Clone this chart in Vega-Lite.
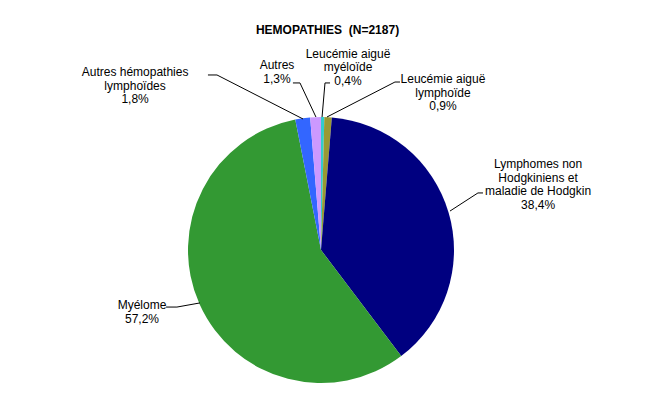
{
  "$schema": "https://vega.github.io/schema/vega-lite/v6.json",
  "description": "Hemopathies (N=2187) - repartition par type",
  "width": 645,
  "height": 405,
  "autosize": {"type": "none"},
  "padding": 0,
  "background": "white",
  "title": {
    "text": "HEMOPATHIES \u00a0(N=2187)",
    "font": "Liberation Sans",
    "fontSize": 12,
    "fontWeight": "bold",
    "color": "black",
    "anchor": "middle",
    "frame": "group",
    "offset": -37,
    "dx": 5
  },
  "datasets": {
    "parts": [
      {"ordre": 1, "type": "Leucémie aiguë myéloïde", "pct": 0.4},
      {"ordre": 2, "type": "Leucémie aiguë lymphoïde", "pct": 0.9},
      {"ordre": 3, "type": "Lymphomes non Hodgkiniens et maladie de Hodgkin", "pct": 38.4},
      {"ordre": 4, "type": "Myélome", "pct": 57.2},
      {"ordre": 5, "type": "Autres hémopathies lymphoïdes", "pct": 1.8},
      {"ordre": 6, "type": "Autres", "pct": 1.3}
    ],
    "leaders": [
      {"type": "Leucémie aiguë myéloïde", "pt": 1, "ux": 0.008, "uy": 1.0},
      {"type": "Leucémie aiguë myéloïde", "pt": 2, "ux": 0.030, "uy": 1.256},
      {"type": "Leucémie aiguë myéloïde", "pt": 3, "ux": 0.068, "uy": 1.256},
      {"type": "Leucémie aiguë lymphoïde", "pt": 1, "ux": 0.045, "uy": 1.0},
      {"type": "Leucémie aiguë lymphoïde", "pt": 2, "ux": 0.556, "uy": 1.263},
      {"type": "Leucémie aiguë lymphoïde", "pt": 3, "ux": 0.594, "uy": 1.263},
      {"type": "Lymphomes non Hodgkiniens et maladie de Hodgkin", "pt": 1, "ux": 0.970, "uy": 0.293},
      {"type": "Lymphomes non Hodgkiniens et maladie de Hodgkin", "pt": 2, "ux": 1.180, "uy": 0.429},
      {"type": "Lymphomes non Hodgkiniens et maladie de Hodgkin", "pt": 3, "ux": 1.218, "uy": 0.429},
      {"type": "Myélome", "pt": 1, "ux": -0.910, "uy": -0.398},
      {"type": "Myélome", "pt": 2, "ux": -1.083, "uy": -0.429},
      {"type": "Myélome", "pt": 3, "ux": -1.165, "uy": -0.429},
      {"type": "Autres hémopathies lymphoïdes", "pt": 1, "ux": -0.135, "uy": 0.985},
      {"type": "Autres hémopathies lymphoïdes", "pt": 2, "ux": -0.782, "uy": 1.316},
      {"type": "Autres hémopathies lymphoïdes", "pt": 3, "ux": -0.850, "uy": 1.316},
      {"type": "Autres", "pt": 1, "ux": -0.038, "uy": 1.0},
      {"type": "Autres", "pt": 2, "ux": -0.158, "uy": 1.256},
      {"type": "Autres", "pt": 3, "ux": -0.211, "uy": 1.256}
    ],
    "labels": [
      {"label": "Leucémie aiguë\nmyéloïde\n0,4%", "ux": 0.203, "uy": 1.474},
      {"label": "Leucémie aiguë\nlymphoïde\n0,9%", "ux": 0.917, "uy": 1.283},
      {"label": "Lymphomes non\nHodgkiniens et\nmaladie de Hodgkin\n38,4%", "ux": 1.632, "uy": 0.644},
      {"label": "Myélome\n57,2%", "ux": -1.346, "uy": -0.416},
      {"label": "Autres hémopathies\nlymphoïdes\n1,8%", "ux": -1.398, "uy": 1.336},
      {"label": "Autres\n1,3%", "ux": -0.331, "uy": 1.388}
    ]
  },
  "layer": [
    {
      "data": {"name": "parts"},
      "mark": {"type": "arc", "outerRadius": 133, "stroke": null},
      "encoding": {
        "x": {"datum": 0, "type": "quantitative", "scale": {"domain": [-2.4135, 2.4361], "nice": false, "zero": false}, "axis": null},
        "y": {"datum": 0, "type": "quantitative", "scale": {"domain": [-1.1654, 1.8797], "nice": false, "zero": false}, "axis": null},
        "theta": {"field": "pct", "type": "quantitative", "stack": true},
        "order": {"field": "ordre", "type": "quantitative"},
        "color": {
          "field": "type",
          "type": "nominal",
          "scale": {
            "domain": ["Leucémie aiguë myéloïde", "Leucémie aiguë lymphoïde", "Lymphomes non Hodgkiniens et maladie de Hodgkin", "Myélome", "Autres hémopathies lymphoïdes", "Autres"],
            "range": ["#33CCCC", "#999933", "#000080", "#339933", "#3366FF", "#CC99FF"]
          },
          "legend": null
        }
      }
    },
    {
      "data": {"name": "leaders"},
      "mark": {"type": "line", "color": "black", "strokeWidth": 1},
      "encoding": {
        "x": {"field": "ux", "type": "quantitative"},
        "y": {"field": "uy", "type": "quantitative"},
        "detail": {"field": "type"},
        "order": {"field": "pt", "type": "quantitative"}
      }
    },
    {
      "data": {"name": "labels"},
      "mark": {
        "type": "text",
        "font": "Liberation Sans",
        "fontSize": 12,
        "lineHeight": 13.5,
        "lineBreak": "\n",
        "align": "center",
        "baseline": "middle",
        "color": "black"
      },
      "encoding": {
        "x": {"field": "ux", "type": "quantitative"},
        "y": {"field": "uy", "type": "quantitative"},
        "text": {"field": "label"}
      }
    }
  ],
  "config": {
    "view": {"stroke": null}
  }
}
